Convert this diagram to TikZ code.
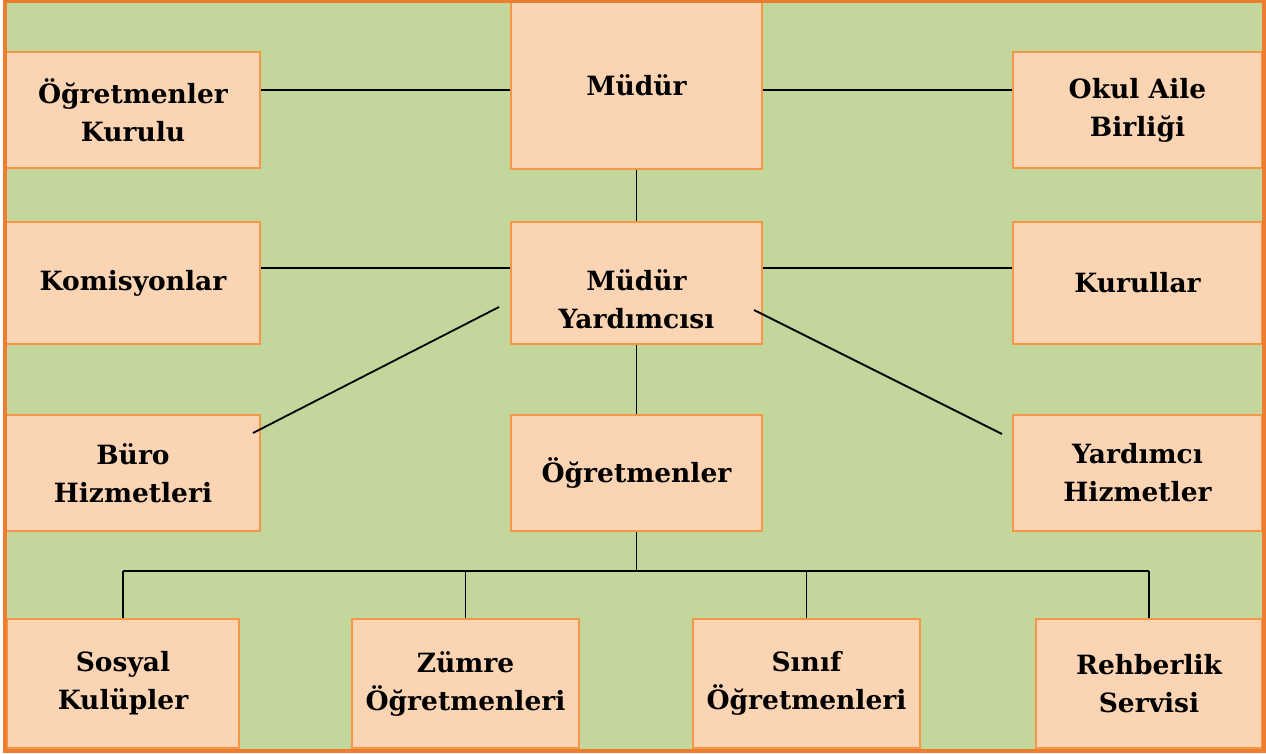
\documentclass[tikz,border=0pt]{standalone}
\usepackage{fontspec}
\setmainfont{DejaVu Serif}
\definecolor{bggreen}{HTML}{C3D69B}
\definecolor{boxfill}{HTML}{FBD4B4}
\definecolor{boxline}{HTML}{F79646}
\definecolor{frameline}{HTML}{ED7D31}
\tikzset{
  orgbox/.style={draw=boxline, fill=boxfill, line width=2.5pt, align=center,
    font=\fontsize{26.5}{38}\selectfont\bfseries, inner sep=0pt},
  conn/.style={draw=black, line width=1.8pt}
}
\begin{document}
\begin{tikzpicture}[x=1pt,y=-1pt]
\useasboundingbox (0,0) rectangle (1266,754);
\fill[bggreen] (5,1) rectangle (1264,751);
% top row
\node[orgbox, minimum width=254pt, minimum height=116pt] (ok) at (133,110) {Öğretmenler\\Kurulu};
\node[orgbox, minimum width=251pt, minimum height=168pt] (md) at (636.5,85) {Müdür};
\node[orgbox, minimum width=249pt, minimum height=116pt] (oab) at (1137.5,110) {Okul Aile\\Birliği};
% second row
\node[orgbox, minimum width=254pt, minimum height=122pt] (kom) at (133,283) {Komisyonlar};
\node[orgbox, minimum width=251pt, minimum height=122pt] (my) at (636.5,283) {};
\node[align=center, font=\fontsize{26.5}{38}\selectfont\bfseries] (myt) at (636.5,299) {Müdür\\Yardımcısı};
\node[orgbox, minimum width=249pt, minimum height=122pt] (kur) at (1137.5,283) {Kurullar};
% third row
\node[orgbox, minimum width=254pt, minimum height=116pt] (buro) at (133,473) {Büro\\Hizmetleri};
\node[orgbox, minimum width=251pt, minimum height=116pt] (ogr) at (636.5,473) {Öğretmenler};
\node[orgbox, minimum width=249pt, minimum height=116pt] (yh) at (1137.5,473) {Yardımcı\\Hizmetler};
% bottom row
\node[orgbox, minimum width=232pt, minimum height=129pt] (sos) at (123,683.5) {Sosyal\\Kulüpler};
\node[orgbox, minimum width=227pt, minimum height=129pt] (zum) at (465.5,683.5) {Zümre\\Öğretmenleri};
\node[orgbox, minimum width=227pt, minimum height=129pt] (sin) at (806.5,683.5) {Sınıf\\Öğretmenleri};
\node[orgbox, minimum width=226pt, minimum height=129pt] (reh) at (1149,683.5) {Rehberlik\\Servisi};
% connectors
\draw[conn] (ok.east |- 0,90) -- (md.west |- 0,90);
\draw[conn] (md.east |- 0,90) -- (oab.west |- 0,90);
\draw[conn] (md.south) -- (my.north);
\draw[conn] (kom.east |- 0,268) -- (my.west |- 0,268);
\draw[conn] (my.east |- 0,268) -- (kur.west |- 0,268);
\coordinate (dl1) at (499,307);
\coordinate (dl2) at (253,433);
\coordinate (dr1) at (754,310);
\coordinate (dr2) at (1002,434);
\draw[conn] (dl1) -- (dl2);
\draw[conn] (dr1) -- (dr2);
\draw[conn] (my.south) -- (ogr.north);
\coordinate (bus) at (636.5,571);
\draw[conn] (ogr.south) -- (bus);
\draw[conn] (sos.north |- bus) -- (reh.north |- bus);
\draw[conn] (sos.north |- bus) -- (sos.north);
\draw[conn] (zum.north |- bus) -- (zum.north);
\draw[conn] (sin.north |- bus) -- (sin.north);
\draw[conn] (reh.north |- bus) -- (reh.north);
% frame
\draw[frameline, line width=4.5pt] (5,1) rectangle (1264,751);
\end{tikzpicture}
\end{document}
